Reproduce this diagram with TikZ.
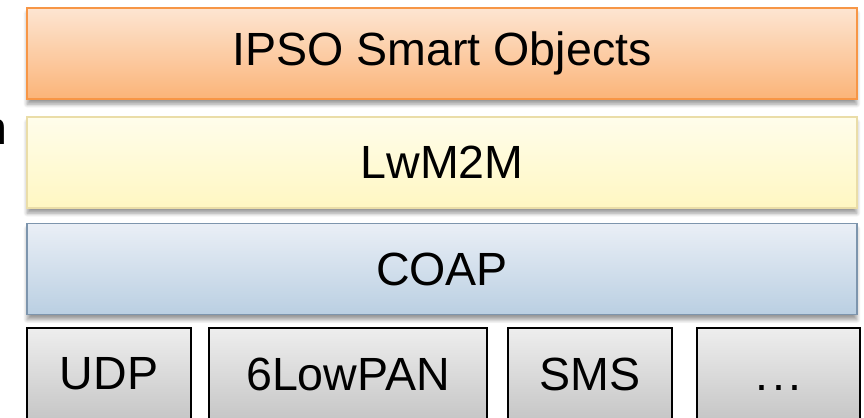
\documentclass[tikz,border=0pt]{standalone}
\usepackage{fontspec}
\setmainfont{Liberation Sans}
\usepackage{tikz}
\usetikzlibrary{shadows.blur}

\definecolor{orTop}{HTML}{FDE5D2}
\definecolor{orBot}{HTML}{FBB478}
\definecolor{orLine}{HTML}{F79646}
\definecolor{yeTop}{HTML}{FFFDEB}
\definecolor{yeBot}{HTML}{FFF7C2}
\definecolor{yeLine}{HTML}{EADDA8}
\definecolor{blTop}{HTML}{EAEFF6}
\definecolor{blBot}{HTML}{BACFE2}
\definecolor{blLine}{HTML}{7D95AD}
\definecolor{grTop}{HTML}{EEEEEE}
\definecolor{grBot}{HTML}{C6C6C6}

\begin{document}
\begin{tikzpicture}[x=0.02cm,y=0.02cm,
  font=\fontsize{26.5}{30}\selectfont,
  layer/.style={minimum width=16.6cm,minimum height=1.82cm,inner sep=0pt,
    line width=0.8pt,blur shadow={shadow xshift=0pt,shadow yshift=-3pt,
    shadow blur steps=6,shadow opacity=40}},
  proto/.style={minimum height=1.84cm,inner sep=0pt,line width=0.8pt,
    draw=black,top color=grTop,bottom color=grBot}]
  \useasboundingbox (0,0) rectangle (864,418);

  % obere Schichten
  \node[layer,draw=orLine,top color=orTop,bottom color=orBot] (IPSO) at (442,364.5) {IPSO Smart Objects};
  \node[layer,draw=yeLine,top color=yeTop,bottom color=yeBot] (LWM) at (442,255.5) {LwM2M};
  \node[layer,draw=blLine,top color=blTop,bottom color=blBot] (COAP) at (442,149) {COAP};

  % Transportschicht (unten abgeschnitten)
  \node[proto,minimum width=3.28cm] (UDP) at (109,44) {UDP};
  \node[proto,minimum width=5.56cm] (LOW) at (348,44) {6LowPAN};
  \node[proto,minimum width=3.28cm] (SMS) at (590,44) {SMS};
  \node[proto,minimum width=3.26cm] (ETC) at (778.5,44) {\vphantom{S}.\kern2pt.\kern2pt.};

  % Rest eines Wortes am linken Rand
  \node[anchor=base east,inner sep=0pt] (W) at (8,273) {n};
\end{tikzpicture}
\end{document}
